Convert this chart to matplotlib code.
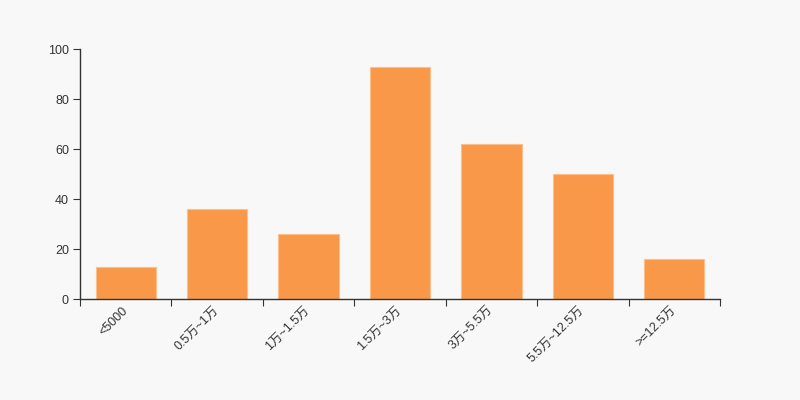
import matplotlib
matplotlib.use("Agg")
import matplotlib.pyplot as plt
import numpy as np

plt.rcParams['font.family'] = ['Liberation Sans', 'Noto Sans CJK SC', 'DejaVu Sans']

categories = ["<5000", "0.5万~1万", "1万~1.5万", "1.5万~3万", "3万~5.5万", "5.5万~12.5万", ">=12.5万"]
values = [13, 36, 26, 93, 62, 50, 16]
yticks = [0, 20, 40, 60, 80, 100]

bg = '#f8f8f8'
fig = plt.figure(figsize=(8, 4), dpi=100, facecolor=bg)
ax = fig.add_axes([0.1, 0.2525, 0.8, 0.625], facecolor=bg)

x = np.arange(len(categories))
ax.bar(x, values, width=0.66, color='#f89848', edgecolor='#fbc08e', linewidth=0.8, zorder=2)

ax.set_xlim(-0.5, len(categories) - 0.5)
ax.set_ylim(0, 100)
ax.set_yticks(yticks)
ax.set_yticklabels([str(v) for v in yticks])

ax.set_xticks(np.arange(len(categories) + 1) - 0.5)
ax.set_xticklabels([])
ax.set_xticks(x, minor=True)
ax.set_xticklabels(categories, minor=True, rotation=45, ha='right', va='center',
                   rotation_mode='anchor', fontsize=9, color='#333333')
ax.tick_params(axis='x', which='minor', length=0, pad=7)
ax.tick_params(axis='x', which='major', length=5, color='#333333')
ax.tick_params(axis='y', length=5, color='#333333', labelsize=9, labelcolor='#333333', pad=3)

for s in ['top', 'right']:
    ax.spines[s].set_visible(False)
for s in ['left', 'bottom']:
    ax.spines[s].set_color('#333333')
    ax.spines[s].set_linewidth(1)

fig.savefig('out.png', dpi=100, facecolor=bg)
